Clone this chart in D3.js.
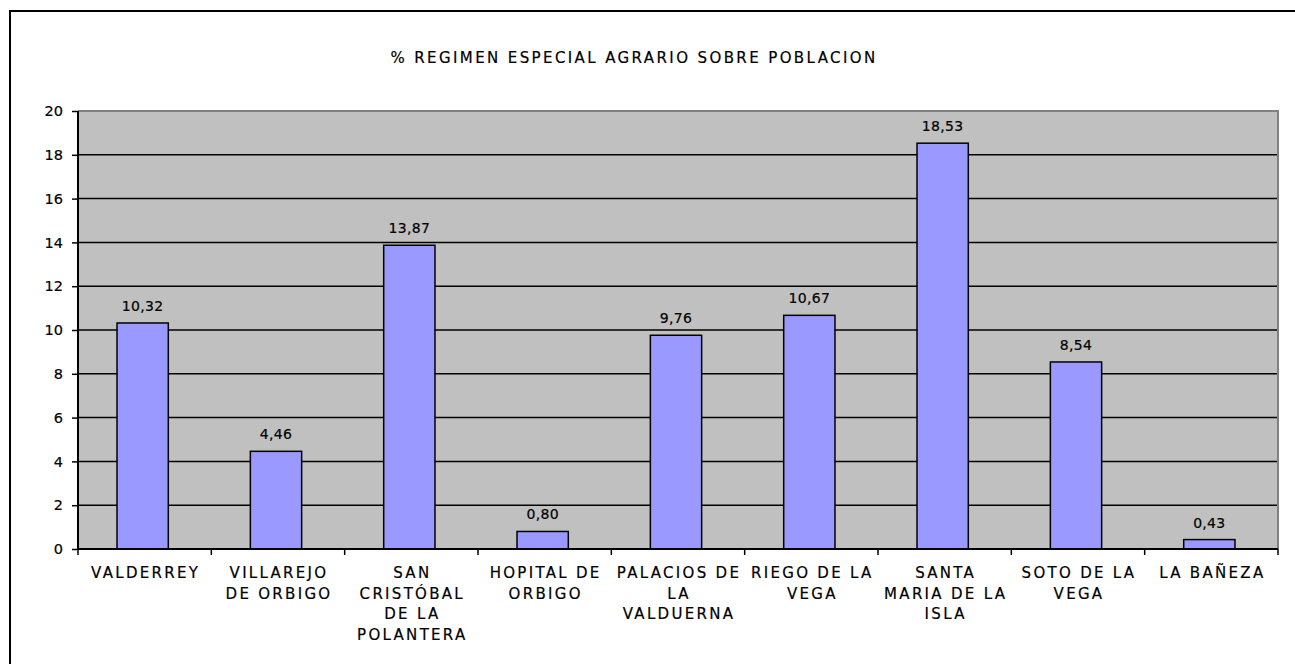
<!DOCTYPE html>
<html>
<head>
<meta charset="utf-8">
<script src="https://cdn.jsdelivr.net/npm/d3@7"></script>
<style>
  body { margin: 0; background: #fff; }
  text { font-family: "DejaVu Sans", Verdana, sans-serif; fill: #000; stroke: #000; stroke-width: 0.2px; }
</style>
</head>
<body>
<svg id="chart" width="1295" height="664"></svg>
<script>
var categories = [
  ["VALDERREY"],
  ["VILLAREJO", "DE ORBIGO"],
  ["SAN", "CRISTÓBAL", "DE LA", "POLANTERA"],
  ["HOPITAL DE", "ORBIGO"],
  ["PALACIOS DE", "LA", "VALDUERNA"],
  ["RIEGO DE LA", "VEGA"],
  ["SANTA", "MARIA DE LA", "ISLA"],
  ["SOTO DE LA", "VEGA"],
  ["LA BAÑEZA"]
];
var values = [10.32, 4.46, 13.87, 0.80, 9.76, 10.67, 18.53, 8.54, 0.43];
var yTicks = [0, 2, 4, 6, 8, 10, 12, 14, 16, 18, 20];
var title = "% REGIMEN ESPECIAL AGRARIO SOBRE POBLACION";

var svg = d3.select("#chart");
var plotLeft = 78, plotRight = 1278, plotTop = 111, plotBottom = 549;

// outer chart border (only left/top show in the frame)
svg.append("rect")
  .attr("x", 10).attr("y", 11)
  .attr("width", 1400).attr("height", 800)
  .attr("fill", "none").attr("stroke", "#000").attr("stroke-width", 2);

svg.append("text")
  .attr("x", 634).attr("y", 63)
  .attr("text-anchor", "middle")
  .style("font-size", "15px")
  .style("letter-spacing", "2.4px")
  .text(title);

var x = d3.scaleBand().domain(d3.range(categories.length)).range([plotLeft, plotRight]);
var y = d3.scaleLinear().domain([0, 20]).range([plotBottom, plotTop]);

// plot area
svg.append("rect")
  .attr("x", plotLeft).attr("y", plotTop)
  .attr("width", plotRight - plotLeft).attr("height", plotBottom - plotTop)
  .attr("fill", "#c0c0c0");

// gridlines
svg.append("g").selectAll("line")
  .data(yTicks.filter(function (d) { return d > 0 && d < 20; }))
  .enter().append("line")
  .attr("x1", plotLeft).attr("x2", plotRight)
  .attr("y1", function (d) { return y(d); })
  .attr("y2", function (d) { return y(d); })
  .attr("stroke", "#000").attr("stroke-width", 1.5);

// plot area border top/right (gray)
svg.append("path")
  .attr("d", "M" + plotLeft + "," + plotTop + "H" + plotRight + "V" + plotBottom)
  .attr("fill", "none").attr("stroke", "#808080").attr("stroke-width", 2);

// bars
var barW = x.bandwidth() / 2.6;
svg.append("g").selectAll("rect")
  .data(values)
  .enter().append("rect")
  .attr("x", function (d, i) { return x(i) + (x.bandwidth() - barW) / 2 - 2; })
  .attr("y", function (d) { return y(d); })
  .attr("width", barW)
  .attr("height", function (d) { return plotBottom - y(d); })
  .attr("fill", "#9999ff")
  .attr("stroke", "#000").attr("stroke-width", 1.5);

// value labels
svg.append("g").selectAll("text")
  .data(values)
  .enter().append("text")
  .attr("x", function (d, i) { return x(i) + x.bandwidth() / 2 - 2; })
  .attr("y", function (d) { return y(d) - 12; })
  .attr("text-anchor", "middle")
  .style("font-size", "14px")
  .style("letter-spacing", "0.3px")
  .text(function (d) { return d.toFixed(2).replace(".", ","); });

// y axis
var yAxis = d3.axisLeft(y).tickValues(yTicks).tickSize(6).tickPadding(9);
var gy = svg.append("g").attr("transform", "translate(" + plotLeft + ",0)").call(yAxis);
gy.select(".domain").attr("stroke", "#000").attr("stroke-width", 2).attr("d", "M0," + plotTop + "V" + plotBottom);
gy.selectAll(".tick line").attr("stroke", "#000").attr("stroke-width", 1.5);
gy.selectAll(".tick text")
  .style("font-family", "'DejaVu Sans', Verdana, sans-serif")
  .style("font-size", "14.5px").attr("fill", "#000");

// x axis: ticks at category boundaries
svg.append("line")
  .attr("x1", plotLeft).attr("x2", plotRight)
  .attr("y1", plotBottom).attr("y2", plotBottom)
  .attr("stroke", "#000").attr("stroke-width", 2);
svg.append("g").selectAll("line")
  .data(d3.range(categories.length + 1))
  .enter().append("line")
  .attr("x1", function (i) { return plotLeft + i * x.step(); })
  .attr("x2", function (i) { return plotLeft + i * x.step(); })
  .attr("y1", plotBottom).attr("y2", plotBottom + 6)
  .attr("stroke", "#000").attr("stroke-width", 1.5);

var labels = svg.append("g").selectAll("text")
  .data(categories)
  .enter().append("text")
  .attr("text-anchor", "middle")
  .style("font-size", "15px")
  .style("letter-spacing", "2.3px");
labels.each(function (lines, i) {
  var t = d3.select(this);
  lines.forEach(function (l, j) {
    t.append("tspan")
      .attr("x", x(i) + x.bandwidth() / 2 + 1)
      .attr("y", 578 + j * 20.5)
      .text(l);
  });
});
</script>
</body>
</html>
